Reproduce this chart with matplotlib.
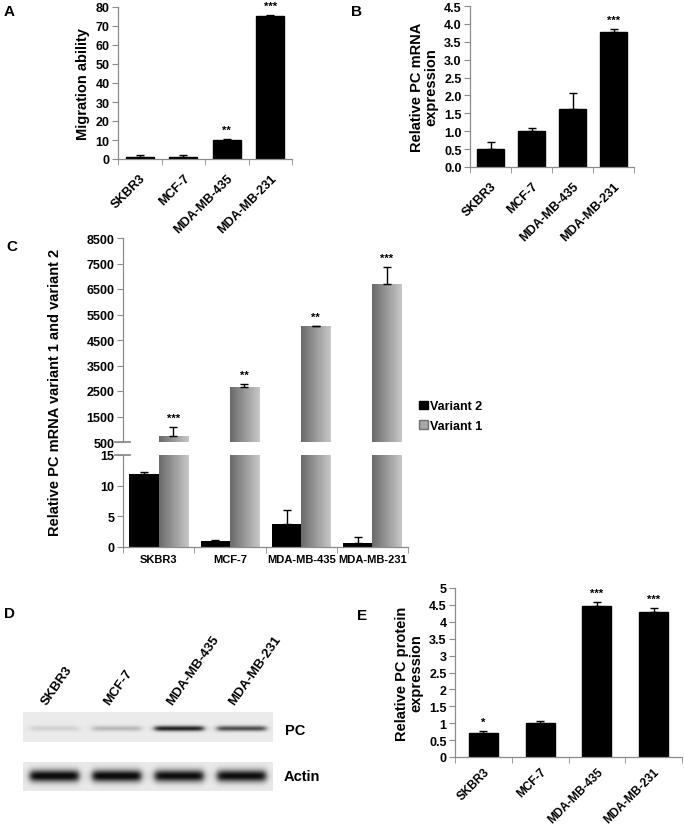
import numpy as np
import matplotlib
matplotlib.use("Agg")
import matplotlib.pyplot as plt
from matplotlib.patches import Rectangle
from matplotlib.colors import LinearSegmentedColormap

plt.rcParams['font.family'] = ['Liberation Sans', 'DejaVu Sans']

# ---------------- data ----------------
cells = ["SKBR3", "MCF-7", "MDA-MB-435", "MDA-MB-231"]

mig_vals = [0.8, 1.0, 10.0, 75.5]
mig_err = [1.5, 1.3, 0.7, 0.3]
mig_sig = ["", "", "**", "***"]

mrna_vals = [0.51, 1.0, 1.63, 3.77]
mrna_err = [0.18, 0.10, 0.43, 0.09]
mrna_sig = ["", "", "", "***"]

var2_vals = [11.9, 1.0, 3.8, 0.6]
var2_err = [0.3, 0.1, 2.3, 1.0]
var1_vals = [720, 2645, 5035, 6685]
var1_err = [355, 120, 30, 670]
var1_sig = ["***", "**", "**", "***"]

prot_vals = [0.7, 1.0, 4.48, 4.3]
prot_err = [0.07, 0.06, 0.10, 0.10]
prot_sig = ["*", "", "***", "***"]

pc_band = [0.10, 0.20, 0.80, 0.62]
actin_band = [0.95, 0.95, 0.92, 0.92]

W, H = 684, 828
fig = plt.figure(figsize=(W / 100, H / 100), dpi=100)
fig.patch.set_facecolor("white")

SPINE = "#8c8c8c"
TICKFS = 9


def px_axes(x0, y0, x1, y1):
    return fig.add_axes([x0 / W, 1 - y1 / H, (x1 - x0) / W, (y1 - y0) / H])


def style(ax, rot=True, labels=cells, xfs=TICKFS, xpad=9):
    for s in ("top", "right"):
        ax.spines[s].set_visible(False)
    for s in ("left", "bottom"):
        ax.spines[s].set_color(SPINE)
        ax.spines[s].set_linewidth(0.9)
    ax.set_xlim(-0.5, len(labels) - 0.5)
    ax.set_xticks(range(len(labels)))
    if rot:
        ax.set_xticklabels(labels, rotation=45, ha="right", va="top",
                           rotation_mode="anchor")
    else:
        ax.set_xticklabels(labels)
    ax.set_xticks(np.arange(-0.5, len(labels)), minor=True)
    ax.tick_params(axis="x", which="major", length=0, pad=xpad)
    ax.tick_params(axis="x", which="minor", length=4, color=SPINE, direction="out")
    ax.tick_params(axis="y", length=4, color=SPINE, direction="out", pad=2)
    for t in ax.get_yticklabels():
        t.set_fontweight("bold")
        t.set_fontsize(TICKFS)
    for t in ax.get_xticklabels():
        t.set_fontweight("bold")
        t.set_fontsize(xfs)


def bars(ax, vals, errs, sig, width, color="black"):
    x = np.arange(len(vals))
    ax.bar(x, vals, width=width, color=color, edgecolor=color, zorder=2)
    ax.errorbar(x, vals, yerr=[np.zeros(len(vals)), errs], fmt="none",
                ecolor="black", elinewidth=1, capsize=3, capthick=1, zorder=3)
    for xi, v, e, s in zip(x, vals, errs, sig):
        if s:
            ax.annotate(s, (xi, v + e), xytext=(0, 3), textcoords="offset points",
                        ha="center", va="bottom", fontsize=8, fontweight="bold")


def panel_label(x, y, s):
    fig.text(x / W, 1 - y / H, s, fontsize=11, fontweight="bold",
             ha="left", va="center")


# ---------------- A ----------------
axA = px_axes(118, 8, 292, 160)
bars(axA, mig_vals, mig_err, mig_sig, 0.65)
axA.set_ylim(0, 80)
axA.set_yticks(range(0, 81, 10))
style(axA)
axA.set_ylabel("Migration ability", fontsize=10.5, fontweight="bold", labelpad=4)
panel_label(4, 12, "A")

# ---------------- B ----------------
axB = px_axes(470, 7, 634, 168)
bars(axB, mrna_vals, mrna_err, mrna_sig, 0.66)
axB.set_ylim(0, 4.5)
axB.set_yticks(np.arange(0, 4.51, 0.5))
axB.yaxis.set_major_formatter(matplotlib.ticker.FormatStrFormatter("%.1f"))
style(axB)
axB.set_ylabel("Relative PC mRNA\nexpression", fontsize=10.5, fontweight="bold",
               labelpad=4, linespacing=1.0)
panel_label(351, 12, "B")

# ---------------- C ----------------
axCu = px_axes(123, 239, 408, 443)
axCl = px_axes(123, 456, 408, 548)
bw = 0.41
grad = np.linspace(0, 1, 64).reshape(1, -1)
gcmap = LinearSegmentedColormap.from_list("g", ["#6a6a6a", "#c8c8c8"])

for ax, lo, hi in ((axCu, 500, 8500), (axCl, 0, 15)):
    x2 = np.arange(4) - bw / 2
    x1 = np.arange(4) + bw / 2
    if lo == 0:
        ax.bar(x2, var2_vals, width=bw, color="black", zorder=2)
        ax.errorbar(x2, var2_vals, yerr=[np.zeros(4), var2_err], fmt="none",
                    ecolor="black", elinewidth=1, capsize=3, capthick=1, zorder=3)
    for xi, v in zip(x1, var1_vals):
        top = min(v, hi)
        rect = Rectangle((xi - bw / 2, lo), bw, top - lo, facecolor="none",
                         edgecolor="none")
        ax.add_patch(rect)
        im = ax.imshow(grad, cmap=gcmap, aspect="auto",
                       extent=(xi - bw / 2, xi + bw / 2, lo, top), zorder=2)
        im.set_clip_path(rect)
    if lo == 500:
        ax.errorbar(x1, var1_vals, yerr=[np.zeros(4), var1_err], fmt="none",
                    ecolor="black", elinewidth=1, capsize=3, capthick=1, zorder=3)
        for xi, v, e, s in zip(x1, var1_vals, var1_err, var1_sig):
            ax.annotate(s, (xi, v + e), xytext=(0, 3), textcoords="offset points",
                        ha="center", va="bottom", fontsize=8, fontweight="bold")
    ax.set_ylim(lo, hi)

axCu.set_yticks(range(500, 8501, 1000))
axCl.set_yticks(range(0, 16, 5))
style(axCl, rot=False, xfs=8, xpad=5)
style(axCu, rot=False)
axCu.spines["bottom"].set_visible(False)
axCu.tick_params(axis="x", which="both", length=0, labelbottom=False)
# axis break marks: short horizontal strokes across the left spine
for ax, yy in ((axCu, 0.0), (axCl, 1.0)):
    ax.plot([-0.028, 0.025], [yy, yy], transform=ax.transAxes,
            color=SPINE, lw=1.3, clip_on=False)
fig.text(55 / W, 1 - 392 / H, "Relative PC mRNA variant 1 and variant 2",
         rotation=90, ha="center", va="center", fontsize=10.5, fontweight="bold")
panel_label(6, 247, "C")

handles = [Rectangle((0, 0), 1, 1, facecolor="black", edgecolor="black"),
           Rectangle((0, 0), 1, 1, facecolor="#a8a8a8", edgecolor="#707070")]
fig.legend(handles, ["Variant 2", "Variant 1"], loc="center left",
           bbox_to_anchor=(408 / W, 1 - 417 / H), frameon=False,
           handlelength=0.7, handleheight=0.7, handletextpad=0.2,
           labelspacing=0.6, prop={"weight": "bold", "size": 9})


# ---------------- D (western blot) ----------------
def blot(intens, yc, sig, bg):
    x = np.linspace(0, 4, 500)
    y = np.linspace(0, 1, 60)
    X, Y = np.meshgrid(x, y)
    img = np.full_like(X, bg)
    for i, v in enumerate(intens):
        c = i + 0.5
        hx = 1 / (1 + np.exp(-(X - (c - 0.39)) / 0.03)) / (1 + np.exp((X - (c + 0.39)) / 0.03))
        hy = np.exp(-((Y - yc) / sig) ** 2)
        img += v * hx * hy
    return np.clip(img, 0, 1)


axPC = px_axes(23, 713, 273, 743)
axAc = px_axes(23, 763, 273, 792)
axPC.imshow(blot(pc_band, 0.55, 0.09, 0.08), cmap="gray_r", vmin=0, vmax=1,
            aspect="auto", extent=(0, 4, 0, 1), interpolation="bilinear")
axAc.imshow(blot(actin_band, 0.48, 0.21, 0.09), cmap="gray_r", vmin=0, vmax=1.05,
            aspect="auto", extent=(0, 4, 0, 1), interpolation="bilinear")
for ax in (axPC, axAc):
    ax.set_axis_off()
for i, s in enumerate(cells):
    axPC.annotate(s, (i + 0.38, 1.0), xycoords=("data", "axes fraction"),
                  xytext=(0, 5), textcoords="offset points", rotation=55,
                  rotation_mode="anchor", ha="left", va="baseline",
                  fontsize=9.5, fontweight="bold")
fig.text(285 / W, 1 - 731 / H, "PC", fontsize=10.5, fontweight="bold", va="center")
fig.text(284 / W, 1 - 777 / H, "Actin", fontsize=10.5, fontweight="bold", va="center")
panel_label(4, 614, "D")

# ---------------- E ----------------
axE = px_axes(455, 589, 682, 758)
bars(axE, prot_vals, prot_err, prot_sig, 0.51)
axE.set_ylim(0, 5)
axE.set_yticks(np.arange(0, 5.01, 0.5))
axE.yaxis.set_major_formatter(matplotlib.ticker.FormatStrFormatter("%g"))
style(axE, xfs=8.5, xpad=6)
axE.set_ylabel("Relative PC protein\nexpression", fontsize=10.5, fontweight="bold",
               labelpad=4, linespacing=1.0)
panel_label(357, 616, "E")

fig.savefig("out.png", dpi=100)
